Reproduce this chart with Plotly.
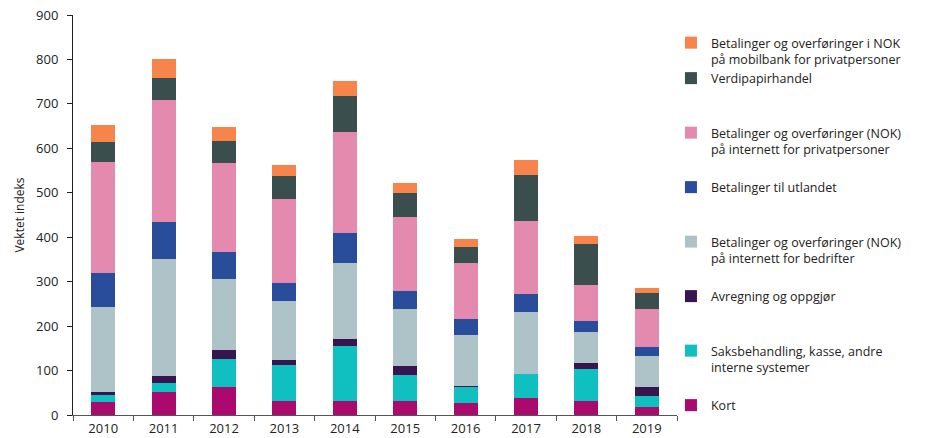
import plotly.graph_objects as go

years = ["2010", "2011", "2012", "2013", "2014", "2015", "2016", "2017", "2018", "2019"]

kort = [30, 52, 62, 31, 31, 31, 26, 38, 31, 19]
saksbehandling = [16, 21, 63, 81, 125, 60, 38, 55, 72, 24]
avregning = [5, 14, 21, 12, 14, 19, 2, 0, 15, 19]
internett_bedrifter = [191, 265, 160, 132, 173, 128, 115, 139, 68, 71]
utlandet = [77, 83, 60, 42, 66, 41, 34, 40, 25, 19]
internett_privat = [251, 274, 202, 187, 227, 167, 128, 165, 81, 86]
verdipapir = [45, 50, 48, 53, 82, 54, 34, 102, 93, 36]
mobilbank = [37, 41, 31, 24, 34, 23, 20, 35, 18, 12]

series = [
    ("Kort", kort, "#AA0A6E", "g1", 8),
    ("Saksbehandling, kasse, andre<br>interne systemer", saksbehandling, "#10BFBF", "g2", 7),
    ("Avregning og oppgjør<br> ", avregning, "#38154F", "g3", 6),
    ("Betalinger og overføringer (NOK)<br>på internett for bedrifter", internett_bedrifter, "#AEC3C8", "g4", 5),
    ("Betalinger til utlandet<br> ", utlandet, "#2A4D9B", "g5", 4),
    ("Betalinger og overføringer (NOK)<br>på internett for privatpersoner", internett_privat, "#E48AAE", "g6", 3),
    ("Verdipapirhandel<br> ", verdipapir, "#3B4E4E", "g7", 2),
    ("Betalinger og overføringer i NOK<br>på mobilbank for privatpersoner", mobilbank, "#F7844A", "g7", 1),
]

fig = go.Figure()
for name, vals, color, grp, rank in series:
    fig.add_trace(go.Bar(
        x=years, y=vals, name=name, marker=dict(color=color, line=dict(width=0)),
        legendgroup=grp, legendrank=rank,
    ))

font_family = "Open Sans, Noto Sans, sans-serif"
fig.update_layout(
    barmode="stack",
    bargap=0.6,
    width=940, height=438,
    margin=dict(l=73, r=263, t=15, b=23, autoexpand=False),
    paper_bgcolor="white", plot_bgcolor="white",
    font=dict(family=font_family, size=13, color="#222222"),
    showlegend=True,
    legend=dict(
        traceorder="grouped",
        x=0.99, xanchor="left", y=0.9675, yanchor="top",
        tracegroupgap=19,
        valign="top",
        font=dict(family=font_family, size=12.5, color="#222222"),
        itemwidth=30,
        bgcolor="rgba(0,0,0,0)",
    ),
    xaxis=dict(
        type="category",
        showline=True, linecolor="#555555", linewidth=1,
        ticks="outside", tickson="boundaries", ticklen=5, tickcolor="#555555",
        showgrid=False, ticklabelstandoff=1,
        tickfont=dict(size=13, color="#222222"),
    ),
    yaxis=dict(
        range=[0, 900], dtick=100,
        showline=True, linecolor="#222222", linewidth=1,
        ticks="outside", ticklen=5, tickcolor="#222222",
        showgrid=False, zeroline=False, ticklabelstandoff=6,
        tickfont=dict(size=13, color="#222222"),
        title=dict(text="Vektet indeks", font=dict(size=12, color="#222222"), standoff=8),
    ),
)

fig.write_html("out.html")
